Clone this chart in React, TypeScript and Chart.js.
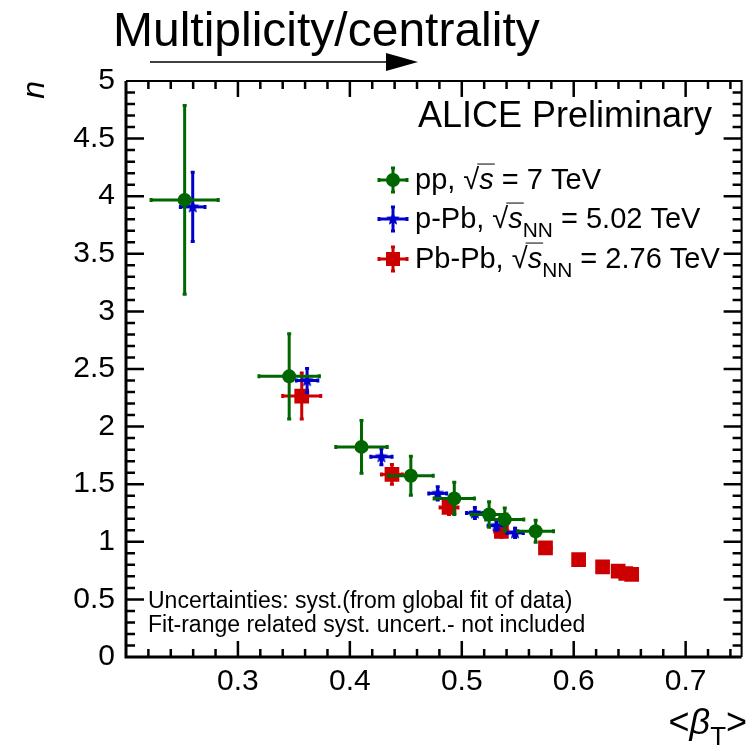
import React, { useEffect, useRef } from 'react';
import { Chart, registerables } from 'chart.js';

Chart.register(...registerables);

// ---- data ----
const ppX = [0.2524, 0.3458, 0.4104, 0.4545, 0.4933, 0.5244, 0.5384, 0.566];
const ppY = [3.968, 2.436, 1.824, 1.573, 1.376, 1.237, 1.194, 1.092];
const ppXErr = [0.03, 0.027, 0.023, 0.02, 0.018, 0.016, 0.017, 0.016];
const ppYErr = [0.82, 0.37, 0.23, 0.17, 0.14, 0.11, 0.1, 0.095];

const pPbX = [0.2596, 0.3618, 0.4282, 0.4785, 0.5117, 0.531, 0.5476];
const pPbY = [3.907, 2.4, 1.738, 1.42, 1.25, 1.14, 1.077];
const pPbXErr = [0.011, 0.0096, 0.0095, 0.008, 0.0075, 0.0075, 0.0074];
const pPbYErr = [0.3, 0.105, 0.07, 0.058, 0.048, 0.04, 0.04];

const PbPbX = [0.357, 0.4376, 0.4886, 0.5354, 0.5748, 0.6044, 0.6258, 0.6397, 0.6465, 0.6518];
const PbPbY = [2.265, 1.585, 1.298, 1.09, 0.947, 0.846, 0.782, 0.745, 0.725, 0.718];
const PbPbXErr = [0.017, 0.0093, 0.008, 0.006, 0.005, 0.004, 0.004, 0.004, 0.004, 0.004];
const PbPbYErr = [0.2, 0.085, 0.062, 0.05, 0.04, 0.03, 0.03, 0.03, 0.03, 0.03];

const xTicks = [0.3, 0.4, 0.5, 0.6, 0.7];
const xTickLabels = ['0.3', '0.4', '0.5', '0.6', '0.7'];
const yTicks = [0, 0.5, 1, 1.5, 2, 2.5, 3, 3.5, 4, 4.5, 5];
const yTickLabels = ['0', '0.5', '1', '1.5', '2', '2.5', '3', '3.5', '4', '4.5', '5'];

const GREEN = '#006600';
const BLUE = '#0000cc';
const RED = '#cc0000';
const FONT = '"Liberation Sans", Arial, Helvetica, sans-serif';

function makeStar(color: string, r: number): HTMLCanvasElement {
  const c = document.createElement('canvas');
  const s = Math.ceil(r * 2 + 2);
  c.width = s;
  c.height = s;
  const g = c.getContext('2d')!;
  g.fillStyle = color;
  g.beginPath();
  for (let i = 0; i < 10; i++) {
    const rr = i % 2 === 0 ? r : r * 0.45;
    const a = -Math.PI / 2 + (i * Math.PI) / 5;
    const px = s / 2 + rr * Math.cos(a);
    const py = s / 2 + rr * Math.sin(a);
    if (i === 0) g.moveTo(px, py);
    else g.lineTo(px, py);
  }
  g.closePath();
  g.fill();
  return c;
}

const starImg = makeStar(BLUE, 7);

const errs = [
  { xe: ppXErr, ye: ppYErr, xs: ppX, ys: ppY, color: GREEN },
  { xe: pPbXErr, ye: pPbYErr, xs: pPbX, ys: pPbY, color: BLUE },
  { xe: PbPbXErr, ye: PbPbYErr, xs: PbPbX, ys: PbPbY, color: RED },
];

function drawBar(ctx: CanvasRenderingContext2D, x1: number, y1: number, x2: number, y2: number, horiz: boolean) {
  ctx.beginPath();
  ctx.moveTo(x1, y1);
  ctx.lineTo(x2, y2);
  ctx.stroke();
  const c = 2;
  ctx.beginPath();
  if (horiz) {
    ctx.moveTo(x1, y1 - c); ctx.lineTo(x1, y1 + c);
    ctx.moveTo(x2, y2 - c); ctx.lineTo(x2, y2 + c);
  } else {
    ctx.moveTo(x1 - c, y1); ctx.lineTo(x1 + c, y1);
    ctx.moveTo(x2 - c, y2); ctx.lineTo(x2 + c, y2);
  }
  ctx.stroke();
}

const errorBarPlugin = {
  id: 'errorBars',
  beforeDatasetDraw(chart: any, args: any) {
    const e = errs[args.index];
    if (!e) return;
    const ctx = chart.ctx;
    const xs = chart.scales.x;
    const ys = chart.scales.y;
    ctx.save();
    ctx.strokeStyle = e.color;
    ctx.lineWidth = 3;
    ctx.lineCap = 'butt';
    e.xs.forEach((xv: number, i: number) => {
      const yv = e.ys[i];
      const px = xs.getPixelForValue(xv);
      const py = ys.getPixelForValue(yv);
      const xl = xs.getPixelForValue(xv - e.xe[i]);
      const xr = xs.getPixelForValue(xv + e.xe[i]);
      const yt = ys.getPixelForValue(yv + e.ye[i]);
      const yb = ys.getPixelForValue(yv - e.ye[i]);
      drawBar(ctx, xl, py, xr, py, true);
      drawBar(ctx, px, yt, px, yb, false);
    });
    ctx.restore();
  },
};

function drawRich(ctx: CanvasRenderingContext2D, x: number, base: number, parts: any[], size: number) {
  let cx = x;
  parts.forEach((p) => {
    const fs = p.sub ? size * 0.72 : size;
    ctx.font = `${p.italic ? 'italic ' : ''}${fs}px ${FONT}`;
    const yb = p.sub ? base + size * 0.3 : base;
    ctx.fillText(p.t, cx, yb);
    const w = ctx.measureText(p.t).width;
    if (p.overline) {
      ctx.save();
      ctx.lineWidth = 1;
      ctx.beginPath();
      ctx.moveTo(cx - 2, base - size * 0.86);
      ctx.lineTo(cx + w + 1, base - size * 0.86);
      ctx.stroke();
      ctx.restore();
    }
    cx += w;
  });
  return cx;
}

const decorPlugin = {
  id: 'decor',
  afterDraw(chart: any) {
    const ctx: CanvasRenderingContext2D = chart.ctx;
    const xs = chart.scales.x;
    const ys = chart.scales.y;
    const { left, right, top, bottom } = chart.chartArea;
    ctx.save();
    // ticks
    ctx.strokeStyle = '#000';
    ctx.lineWidth = 2.5;
    ctx.beginPath();
    for (let k = 0; k <= 27; k++) {
      const v = 0.2 + k * 0.02;
      const px = xs.getPixelForValue(v);
      if (px <= left + 1 || px >= right - 1) continue;
      const major = k % 5 === 0;
      const len = major ? 16 : 8;
      ctx.moveTo(px, bottom); ctx.lineTo(px, bottom - len);
      ctx.moveTo(px, top); ctx.lineTo(px, top + len);
    }
    for (let k = 1; k < 50; k++) {
      const v = k * 0.1;
      const py = ys.getPixelForValue(v);
      const major = k % 5 === 0;
      const len = major ? 18 : 9;
      ctx.moveTo(left, py); ctx.lineTo(left + len, py);
      ctx.moveTo(right, py); ctx.lineTo(right - len, py);
    }
    ctx.stroke();
    // frame
    ctx.lineWidth = 3;
    ctx.beginPath();
    ctx.moveTo(left, top); ctx.lineTo(left, bottom); ctx.lineTo(right, bottom);
    ctx.stroke();
    ctx.lineWidth = 2;
    ctx.beginPath();
    ctx.moveTo(left, top); ctx.lineTo(right, top); ctx.lineTo(right, bottom);
    ctx.stroke();

    ctx.fillStyle = '#000';
    ctx.textBaseline = 'alphabetic';
    // title + arrow
    ctx.textAlign = 'left';
    ctx.font = `48px ${FONT}`;
    ctx.fillText('Multiplicity/centrality', 113, 46);
    ctx.lineWidth = 1.5;
    ctx.beginPath();
    ctx.moveTo(150, 62); ctx.lineTo(388, 62);
    ctx.stroke();
    ctx.beginPath();
    ctx.moveTo(386, 53); ctx.lineTo(418, 62); ctx.lineTo(386, 71); ctx.closePath();
    ctx.fill();

    // ALICE
    ctx.textAlign = 'right';
    ctx.font = `36px ${FONT}`;
    ctx.fillText('ALICE Preliminary', 712, 127);

    // legend
    ctx.textAlign = 'left';
    const rows = [
      { y: 180, base: 189, color: GREEN, kind: 'circle', parts: [{ t: 'pp, ' }, { t: '\u221A' }, { t: 's', italic: true, overline: true }, { t: ' = 7 TeV' }] },
      { y: 219, base: 228, color: BLUE, kind: 'star', parts: [{ t: 'p-Pb, ' }, { t: '\u221A' }, { t: 's', italic: true, overline: true }, { t: 'NN', sub: true }, { t: ' = 5.02 TeV' }] },
      { y: 259, base: 268, color: RED, kind: 'rect', parts: [{ t: 'Pb-Pb, ' }, { t: '\u221A' }, { t: 's', italic: true, overline: true }, { t: 'NN', sub: true }, { t: ' = 2.76 TeV' }] },
    ];
    rows.forEach((r) => {
      const mx = 393;
      ctx.strokeStyle = r.color;
      ctx.fillStyle = r.color;
      ctx.lineWidth = 3;
      drawBar(ctx, mx - 14, r.y, mx + 14, r.y, true);
      drawBar(ctx, mx, r.y - 12, mx, r.y + 12, false);
      if (r.kind === 'circle') {
        ctx.beginPath(); ctx.arc(mx, r.y, 7, 0, Math.PI * 2); ctx.fill();
      } else if (r.kind === 'rect') {
        ctx.fillRect(mx - 7, r.y - 7, 14, 14);
      } else {
        ctx.drawImage(starImg, mx - starImg.width / 2, r.y - starImg.height / 2);
      }
      ctx.fillStyle = '#000';
      ctx.strokeStyle = '#000';
      drawRich(ctx, 415, r.base, r.parts, 29);
    });

    // footnotes
    ctx.fillStyle = '#000';
    ctx.font = `23px ${FONT}`;
    ctx.fillText('Uncertainties: syst.(from global fit of data)', 148, 608);
    ctx.fillText('Fit-range related syst. uncert.- not included', 148, 632);

    // x title <beta_T>
    const parts = [{ t: '<' }, { t: '\u03B2', italic: true }, { t: 'T', sub: true }, { t: '>' }];
    ctx.textAlign = 'left';
    let w = 0;
    parts.forEach((p: any) => {
      ctx.font = `${p.italic ? 'italic ' : ''}${p.sub ? 36 * 0.72 : 36}px ${FONT}`;
      w += ctx.measureText(p.t).width;
    });
    drawRich(ctx, 747 - w, 734, parts, 36);
    ctx.restore();
  },
};

export default function App() {
  const ref = useRef<HTMLCanvasElement | null>(null);
  useEffect(() => {
    if (!ref.current) return;
    const chart = new Chart(ref.current, {
      type: 'scatter',
      data: {
        datasets: [
          {
            label: 'pp, √s = 7 TeV',
            data: ppX.map((x, i) => ({ x, y: ppY[i] })),
            pointStyle: 'circle',
            pointRadius: 7,
            pointBorderWidth: 0,
            backgroundColor: GREEN,
            borderColor: GREEN,
          },
          {
            label: 'p-Pb, √sNN = 5.02 TeV',
            data: pPbX.map((x, i) => ({ x, y: pPbY[i] })),
            pointStyle: starImg as any,
            pointRadius: 7,
            backgroundColor: BLUE,
            borderColor: BLUE,
          },
          {
            label: 'Pb-Pb, √sNN = 2.76 TeV',
            data: PbPbX.map((x, i) => ({ x, y: PbPbY[i] })),
            pointStyle: 'rect',
            pointRadius: 10.4,
            pointBorderWidth: 0,
            backgroundColor: RED,
            borderColor: RED,
          },
        ],
      },
      options: {
        animation: false,
        responsive: false,
        devicePixelRatio: 1,
        layout: { padding: { top: 81, right: 6, left: 0, bottom: 0 } },
        plugins: { legend: { display: false }, tooltip: { enabled: false } },
        scales: {
          x: {
            type: 'linear',
            min: 0.2,
            max: 0.75,
            grid: { display: false, drawTicks: false },
            border: { display: false },
            afterBuildTicks: (s: any) => { s.ticks = xTicks.map((v) => ({ value: v })); },
            afterFit: (s: any) => { s.height = 94; },
            ticks: {
              autoSkip: false,
              maxRotation: 0,
              padding: 7,
              color: '#000',
              font: { family: FONT, size: 30 },
              callback: (_v: any, i: number) => xTickLabels[i],
            },
          },
          y: {
            type: 'linear',
            min: 0,
            max: 5,
            grid: { display: false, drawTicks: false },
            border: { display: false },
            afterBuildTicks: (s: any) => { s.ticks = yTicks.map((v) => ({ value: v })); },
            afterFit: (s: any) => { s.width = 126; },
            title: {
              display: true,
              text: 'n',
              align: 'end',
              color: '#000',
              padding: { top: 16, bottom: 0 },
              font: { family: FONT, size: 32, style: 'italic' },
            },
            ticks: {
              autoSkip: false,
              padding: 11,
              color: '#000',
              font: { family: FONT, size: 30 },
              callback: (_v: any, i: number) => yTickLabels[i],
            },
          },
        },
      },
      plugins: [errorBarPlugin, decorPlugin],
    } as any);
    return () => chart.destroy();
  }, []);
  return (
    <div style={{ position: 'fixed', left: 0, top: 0, width: 752, height: 751, background: '#fff' }}>
      <canvas ref={ref} width={752} height={751} style={{ width: 752, height: 751, display: 'block' }} />
    </div>
  );
}
